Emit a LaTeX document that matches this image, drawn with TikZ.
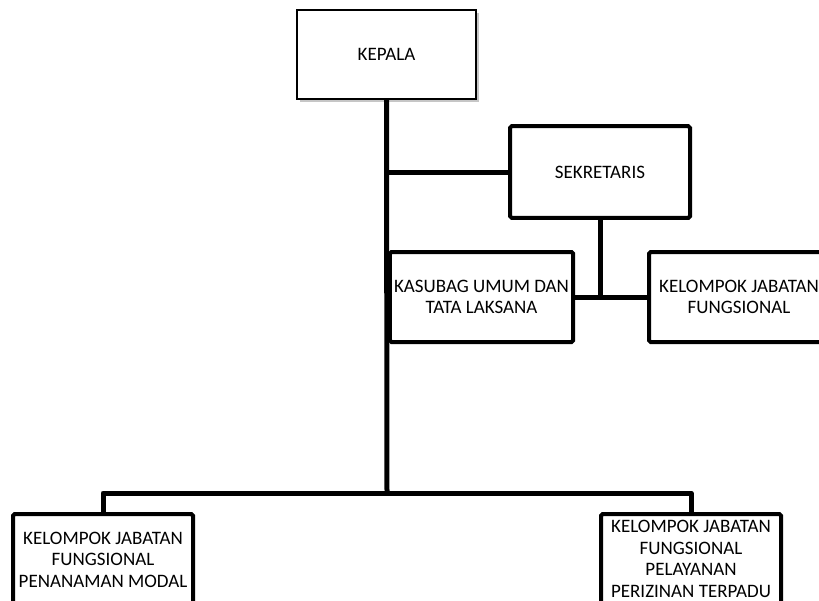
\documentclass[tikz,border=0pt]{standalone}
\usepackage{fontspec}
\setmainfont{Carlito}
\usepackage{tikz}
\usetikzlibrary{positioning}
\usetikzlibrary{shadows}

\begin{document}
\begin{tikzpicture}[x=0.6pt, y=-0.6pt,
    font=\fontsize{11.4}{12.9}\selectfont,
    kotak/.style={draw, line width=2.4pt, rounded corners=1pt, fill=white,
      minimum width=108pt, minimum height=54pt, inner xsep=0pt, align=center},
    garis/.style={line width=3pt, line join=round}]
      \useasboundingbox (0, 0) rectangle (819, 600);
      \clip (0, 0) rectangle (819, 600);

      \node [draw, line width=0.9pt, fill=white, minimum width=107.4pt, minimum height=53.4pt,
        drop shadow={shadow xshift=1.5pt, shadow yshift=-1.5pt, opacity=0.45}] (kepala) at (386.5, 54.5) {KEPALA};

      \node [kotak, minimum height=55pt] (sekretaris) at (600, 172) {SEKRETARIS};
      \node [kotak, minimum width=110pt] (kasubag) at (481.5, 297) {KASUBAG UMUM DAN\\TATA LAKSANA};
      \node [kotak, anchor=west] (fungsional) at (647, 297) {KELOMPOK JABATAN\\FUNGSIONAL};

      \node [kotak, anchor=north, minimum height=55pt] (penanaman) at (103, 512) {KELOMPOK JABATAN\\FUNGSIONAL\\PENANAMAN MODAL};
      \node [kotak, anchor=north, minimum height=54pt] (pelayanan) at (691, 512) {KELOMPOK JABATAN\\FUNGSIONAL\\PELAYANAN\\PERIZINAN TERPADU};

      \coordinate (hub) at (387, 493);

      \draw [garis] (kepala.south) -- (hub);
      \draw [garis] (sekretaris.west) -- (sekretaris.west -| hub);
      \draw [garis] (sekretaris.south) -- (sekretaris.south |- kasubag.east);
      \draw [garis] (kasubag.east) -- (fungsional.west);
      \draw [garis] (penanaman.north) |- (hub) -| (pelayanan.north);
    \end{tikzpicture}
\end{document}
